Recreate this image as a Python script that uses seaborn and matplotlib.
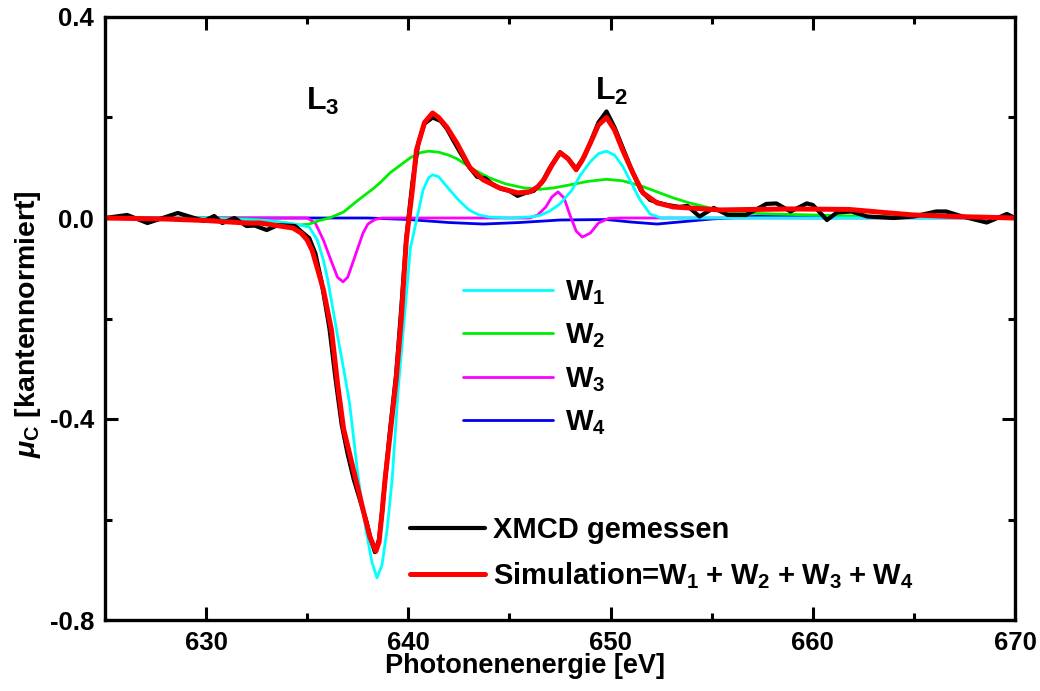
import matplotlib
matplotlib.use("Agg")
import matplotlib.pyplot as plt
import seaborn as sns
import pandas as pd
from matplotlib import font_manager
from matplotlib.font_manager import FontProperties
from matplotlib.ticker import MultipleLocator

# ---------------- data: photon energy [eV] and circular dichroism mu_C ----------------
w1_e = [625, 630, 633, 634, 634.6, 635.1, 635.5, 635.8, 636.0, 636.2, 636.5, 636.8, 637.1,
        637.3, 637.5, 637.9, 638.2, 638.45, 638.7, 638.95, 639.2, 639.5, 639.8, 640.1, 640.43,
        640.73, 641.0, 641.2, 641.5, 642.0, 642.5, 643.0, 643.5, 644.0, 645.0, 646.0, 646.5,
        647.0, 647.5, 648.1, 648.5, 649.0, 649.4, 649.8, 650.2, 650.6, 651.0, 651.46, 651.95,
        652.5, 655, 670]
w1_mu = [0, 0, -0.005, -0.01, -0.014, -0.018, -0.044, -0.084, -0.12, -0.165, -0.235, -0.3,
         -0.37, -0.44, -0.51, -0.62, -0.685, -0.716, -0.69, -0.62, -0.52, -0.34, -0.2, -0.06,
         0.0, 0.056, 0.08, 0.086, 0.082, 0.058, 0.035, 0.016, 0.006, 0.002, 0.0, 0.002, 0.005,
         0.014, 0.028, 0.056, 0.085, 0.112, 0.128, 0.133, 0.125, 0.103, 0.072, 0.036, 0.008,
         0.0, 0.0, 0.0]

w2_e = [625, 630, 632, 633, 634, 634.6, 635.1, 635.6, 636.1, 636.8, 637.5, 638.25, 638.6,
        639.1, 639.6, 640.1, 640.6, 641.0, 641.5, 642.0, 642.4, 643.2, 644.0, 644.8, 645.7,
        646.5, 647.2, 648.0, 648.9, 649.8, 650.6, 651.5, 652.3, 653.1, 653.9, 654.8, 655.5,
        656.5, 658, 660, 662, 665, 670]
w2_mu = [0, 0, -0.002, -0.005, -0.01, -0.014, -0.012, -0.005, 0.0, 0.012, 0.035, 0.058, 0.07,
         0.09, 0.105, 0.12, 0.13, 0.133, 0.131, 0.125, 0.118, 0.097, 0.08, 0.068, 0.06,
         0.057, 0.06, 0.066, 0.073, 0.077, 0.074, 0.064, 0.052, 0.04, 0.03, 0.021, 0.014,
         0.01, 0.008, 0.006, 0.004, 0.002, 0.0]

w3_e = [625, 635.0, 635.4, 635.8, 636.2, 636.5, 636.77, 637.0, 637.27, 637.5, 637.76, 638.0,
        638.35, 638.7, 646.0, 646.4, 646.8, 647.1, 647.4, 647.7, 648.0, 648.3, 648.6, 649.0,
        649.4, 649.9, 650.5, 670]
w3_mu = [0, 0, -0.01, -0.044, -0.087, -0.118, -0.127, -0.118, -0.087, -0.06, -0.03, -0.012,
         -0.003, 0, 0, 0.006, 0.022, 0.042, 0.052, 0.04, 0.005, -0.026, -0.038, -0.03,
         -0.01, -0.001, 0, 0]

w4_e = [625, 638, 640, 642, 643.7, 645.5, 647.5, 649.8, 651, 652.3, 653.4, 655, 657.5, 660,
        665, 670]
w4_mu = [0, 0, -0.003, -0.009, -0.012, -0.009, -0.004, -0.003, -0.008, -0.012, -0.008,
         -0.002, 0.004, 0.003, 0.001, 0]

sim_e = [625, 628, 630, 632, 632.67, 633.5, 634.3, 634.7, 635.0, 635.25, 635.5, 635.8, 636.2,
         636.5, 636.8, 637.1, 637.4, 637.8, 638.1, 638.4, 638.55, 638.7, 638.85, 639.1, 639.4,
         639.65, 639.9, 640.2, 640.4, 640.8, 641.2, 641.5, 641.9, 642.4, 643.05, 643.7,
         644.5, 645.4, 646.0, 646.4, 646.7, 647.1, 647.5, 647.9, 648.3, 648.6, 649.0, 649.4,
         649.8, 650.2, 650.6, 651.1, 651.6, 652.3, 653.1, 653.9, 655.4, 657, 659, 661.8,
         663.5, 665, 667, 670]
sim_mu = [0, -0.002, -0.005, -0.01, -0.01, -0.015, -0.02, -0.03, -0.044, -0.065, -0.1, -0.143,
          -0.223, -0.33, -0.42, -0.47, -0.52, -0.587, -0.635, -0.663, -0.645, -0.587, -0.52,
          -0.43, -0.32, -0.2, -0.044, 0.056, 0.135, 0.19, 0.209, 0.2, 0.181, 0.149, 0.10,
          0.076, 0.06, 0.05, 0.052, 0.062, 0.076, 0.105, 0.13, 0.118, 0.096, 0.115, 0.149,
          0.185, 0.2, 0.175, 0.135, 0.09, 0.05, 0.03, 0.022, 0.02, 0.016, 0.017, 0.018,
          0.017, 0.011, 0.006, 0.003, 0]

xmcd_e = [625.0, 626.1, 627.1, 628.6, 629.9, 630.4, 630.8, 631.4, 632.0, 632.4, 633.0, 633.55,
          634.4, 634.8, 635.1, 635.4, 635.7, 636.1, 636.4, 636.7, 637.0, 637.3, 637.6, 637.9,
          638.15, 638.35, 638.55, 638.7, 638.9, 639.1, 639.4, 639.65, 639.9, 640.2, 640.5,
          640.8, 641.2, 641.6, 641.9, 642.2, 642.6, 643.0, 643.4, 643.8, 644.2, 644.6, 645.0,
          645.4, 645.8, 646.2, 646.6, 647.0, 647.5, 647.9, 648.3, 648.7, 649.0, 649.4, 649.8,
          650.2, 650.6, 651.0, 651.5, 651.95, 652.4, 652.8, 653.4, 653.8, 654.4, 655.1, 655.8,
          656.7, 657.7, 658.2, 658.9, 659.7, 660.0, 660.7, 661.2, 661.9, 662.7, 664.0, 665.0,
          666.1, 666.6, 667.4, 668.6, 669.6, 670.0]
xmcd_mu = [0.0, 0.006, -0.01, 0.01, -0.006, 0.004, -0.01, 0.0, -0.016, -0.015, -0.024, -0.014,
           -0.016, -0.03, -0.04, -0.07, -0.125, -0.22, -0.32, -0.41, -0.47, -0.52, -0.56, -0.60,
           -0.64, -0.665, -0.64, -0.585, -0.5, -0.42, -0.31, -0.18, -0.04, 0.07, 0.15,
           0.188, 0.2, 0.193, 0.178, 0.156, 0.128, 0.102, 0.082, 0.079, 0.066, 0.058, 0.054,
           0.044, 0.05, 0.054, 0.07, 0.1, 0.131, 0.118, 0.098, 0.122, 0.15, 0.19, 0.212,
           0.18, 0.14, 0.1, 0.055, 0.036, 0.03, 0.026, 0.022, 0.024, 0.003, 0.02, 0.006,
           0.006, 0.028, 0.029, 0.013, 0.029, 0.026, -0.004, 0.011, 0.013, 0.003, 0.0, 0.003,
           0.013, 0.013, 0.003, -0.009, 0.008, 0.0]

x_ticks = [630, 640, 650, 660, 670]
y_ticks = [-0.8, -0.4, 0.0, 0.4]

# ---------------- styling ----------------
sns.set_theme(style="ticks")
installed = {f.name for f in font_manager.fontManager.ttflist}
BASE = "Liberation Sans" if "Liberation Sans" in installed else "DejaVu Sans"
NARROW = "Liberation Sans Narrow" if "Liberation Sans Narrow" in installed else None

plt.rcParams.update({
    "font.family": [BASE, "DejaVu Sans"],
    "font.weight": "bold",
    "text.color": "black",
    "axes.labelcolor": "black",
    "xtick.color": "black",
    "ytick.color": "black",
    "axes.unicode_minus": False,
    "mathtext.fontset": "custom",
    "mathtext.rm": f"{BASE}:bold",
    "mathtext.bf": f"{BASE}:bold",
    "mathtext.it": f"{BASE}:italic:bold",
    "mathtext.default": "regular",
})

DPI = 100
W, H = 1040, 691
fig = plt.figure(figsize=(W / DPI, H / DPI), dpi=DPI)
fig.patch.set_facecolor("white")
ax_l, ax_r, ax_t, ax_b = 105, 1015, 17, 620
ax = fig.add_axes([ax_l / W, 1 - ax_b / H, (ax_r - ax_l) / W, (ax_b - ax_t) / H])
ax.set_facecolor("white")

series = [
    ("W$_1$", w1_e, w1_mu, "#00FFFF", 2.0),
    ("W$_2$", w2_e, w2_mu, "#00EE00", 2.0),
    ("W$_3$", w3_e, w3_mu, "#FF00FF", 2.0),
    ("W$_4$", w4_e, w4_mu, "#0000EE", 2.0),
]
draw_order = [3, 2, 1, 0]
comp_lines = {}
for i in draw_order:
    name, e, mu, col, lw = series[i]
    df = pd.DataFrame({"E": e, "mu": mu})
    sns.lineplot(data=df, x="E", y="mu", ax=ax, color=col, linewidth=lw,
                 estimator=None, sort=False, legend=False,
                 solid_joinstyle="round", solid_capstyle="round")
    comp_lines[i] = ax.lines[-1]

sns.lineplot(data=pd.DataFrame({"E": xmcd_e, "mu": xmcd_mu}), x="E", y="mu", ax=ax,
             color="black", linewidth=3.0, estimator=None, sort=False, legend=False,
             solid_joinstyle="round", solid_capstyle="round")
xmcd_line = ax.lines[-1]
sns.lineplot(data=pd.DataFrame({"E": sim_e, "mu": sim_mu}), x="E", y="mu", ax=ax,
             color="#FF0000", linewidth=3.6, estimator=None, sort=False, legend=False,
             solid_joinstyle="round", solid_capstyle="round")
sim_line = ax.lines[-1]

# ---------------- axes ----------------
ax.set_xlim(625, 670)
ax.set_ylim(-0.8, 0.4)
ax.set_xticks(x_ticks)
ax.set_yticks(y_ticks)
ax.set_xticklabels([f"{v:d}" for v in x_ticks])
ax.set_yticklabels([f"{v:.1f}" for v in y_ticks])
ax.xaxis.set_minor_locator(MultipleLocator(5))
ax.yaxis.set_minor_locator(MultipleLocator(0.2))
ax.tick_params(which="both", direction="in", top=True, right=True, width=2.2, color="black")
ax.tick_params(which="major", length=9.5, pad=8, labelsize=18.5, labelcolor="black")
ax.tick_params(which="minor", length=5)
for lab in ax.get_xticklabels() + ax.get_yticklabels():
    lab.set_fontweight("bold")
for sp in ax.spines.values():
    sp.set_linewidth(2.4)
    sp.set_color("black")
    sp.set_visible(True)

ax.set_xlabel("Photonenenergie [eV]", fontsize=19.5, fontweight="bold", color="black")
ax.xaxis.set_label_coords((525 - ax_l) / (ax_r - ax_l), -0.055)
ax.set_ylabel(r"$\mathit{\mu}_{C}$ [kantennormiert]", fontsize=20.5, fontweight="bold",
              color="black")
ax.yaxis.set_label_coords(-0.068, 0.49)

# edge labels
ax.text(634.94, 0.215, "L$_3$", fontsize=23, fontweight="bold", va="baseline", ha="left",
        color="black")
ax.text(649.23, 0.236, "L$_2$", fontsize=23, fontweight="bold", va="baseline", ha="left",
        color="black")

# ---------------- legends ----------------
if NARROW:
    leg_prop = FontProperties(family=NARROW, weight="bold", size=24)
else:
    leg_prop = FontProperties(family=BASE, weight="bold", size=21)
fs_px = leg_prop.get_size_in_points() * DPI / 72

def ax_frac(px, py):
    return ((px - ax_l) / (ax_r - ax_l), (ax_b - py) / (ax_b - ax_t))

leg1 = ax.legend([comp_lines[i] for i in range(4)], [s[0] for s in series],
                 loc="center left", bbox_to_anchor=ax_frac(463, 357.5),
                 frameon=False, borderpad=0, borderaxespad=0,
                 handlelength=90 / fs_px, handletextpad=12 / fs_px,
                 labelspacing=0.5, prop=leg_prop)
for t in leg1.get_texts():
    t.set_color("black")
ax.add_artist(leg1)

sim_label = (r"Simulation=W$_1\;$+$\;$W$_2\;$+$\;$W$_3\;$+$\;$W$_4$"
             if not NARROW else "Simulation=W$_1$+W$_2$+W$_3$+W$_4$")
leg2 = ax.legend([xmcd_line, sim_line], ["XMCD gemessen", sim_label],
                 loc="center left", bbox_to_anchor=ax_frac(410, 553.5),
                 frameon=False, borderpad=0, borderaxespad=0,
                 handlelength=75 / fs_px, handletextpad=8 / fs_px,
                 labelspacing=0.56, prop=leg_prop)
for t in leg2.get_texts():
    t.set_color("black")

fig.savefig("out.png", dpi=DPI, facecolor="white")
